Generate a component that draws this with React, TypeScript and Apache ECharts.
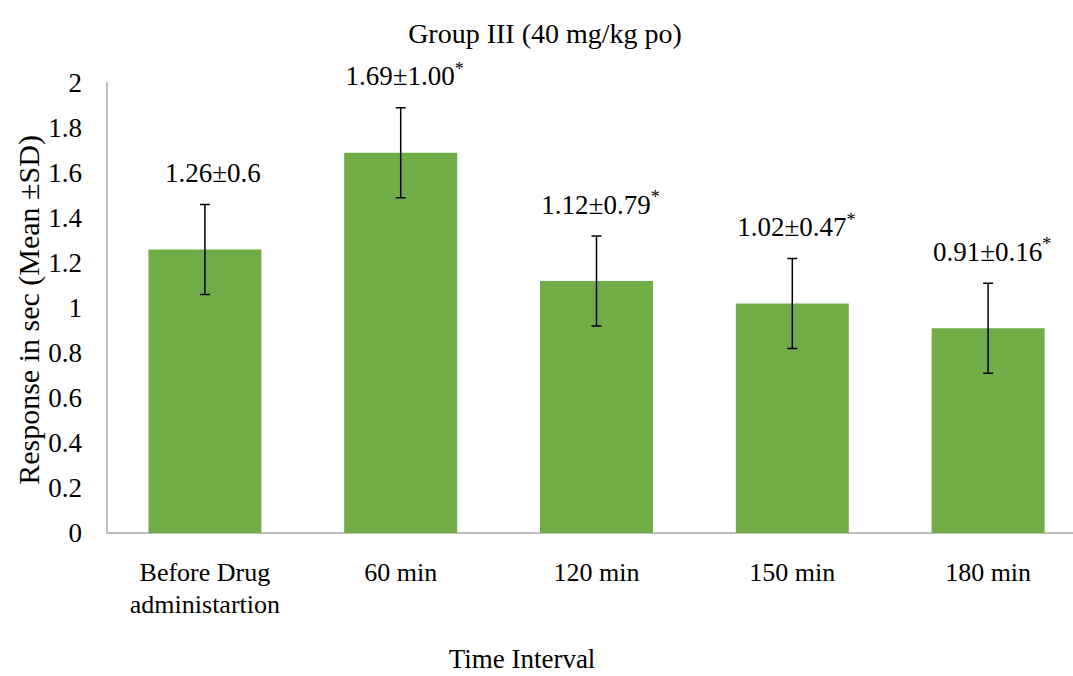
import React, { useEffect, useRef } from "react";
import * as echarts from "echarts";

const categories = ["Before Drug\nadministartion", "60 min", "120 min", "150 min", "180 min"];
const means = [1.26, 1.69, 1.12, 1.02, 0.91];
const errorBars = [0.2, 0.2, 0.2, 0.2, 0.2];
const labelTexts = ["1.26±0.6", "1.69±1.00", "1.12±0.79", "1.02±0.47", "0.91±0.16"];
const significance = ["", "*", "*", "*", "*"];
const yTicks = [0, 0.2, 0.4, 0.6, 0.8, 1, 1.2, 1.4, 1.6, 1.8, 2];
const titleText = "Group III (40 mg/kg po)";
const xAxisTitle = "Time Interval";
const yAxisTitle = "Response in sec (Mean ±SD)";

const FONT = '"Liberation Serif", "Times New Roman", serif';

export default function App() {
  const ref = useRef<HTMLDivElement>(null);

  useEffect(() => {
    if (!ref.current) return;
    const chart = echarts.init(ref.current, undefined, { renderer: "svg" });
    const errData = categories.map((_, i) => [i, means[i], errorBars[i]]);

    chart.setOption({
      animation: false,
      backgroundColor: "#ffffff",
      grid: {
        left: 107,
        right: -13,
        top: 83,
        bottom: 143,
        containLabel: false,
        outerBoundsMode: "none",
      },
      xAxis: {
        type: "category",
        data: categories,
        axisLine: { show: true, lineStyle: { color: "#BFBFBF", width: 2 } },
        axisTick: { show: false },
        axisLabel: {
          fontFamily: FONT,
          fontSize: 26,
          color: "#000000",
          lineHeight: 32,
          margin: 23,
          interval: 0,
        },
        splitLine: { show: false },
      },
      yAxis: {
        type: "value",
        min: 0,
        max: 2,
        interval: 0.2,
        axisLine: { show: true, lineStyle: { color: "#BFBFBF", width: 2 } },
        axisTick: { show: false },
        splitLine: { show: false },
        axisLabel: {
          fontFamily: FONT,
          fontSize: 27,
          color: "#000000",
          margin: 25,
          formatter: (v: number) => {
            const t = yTicks.find((k) => Math.abs(k - v) < 1e-9);
            return t === undefined ? "" : String(parseFloat(t.toFixed(1)));
          },
        },
      },
      graphic: [
        {
          type: "text",
          x: 545,
          y: 33,
          style: {
            text: titleText,
            font: `28px ${FONT}`,
            fill: "#000000",
            align: "center",
            verticalAlign: "middle",
          },
        },
        {
          type: "text",
          x: 522,
          y: 659,
          style: {
            text: xAxisTitle,
            font: `27px ${FONT}`,
            fill: "#000000",
            align: "center",
            verticalAlign: "middle",
          },
        },
        {
          type: "text",
          x: 28,
          y: 310,
          rotation: Math.PI / 2,
          style: {
            text: yAxisTitle,
            font: `30px ${FONT}`,
            fill: "#000000",
            align: "center",
            verticalAlign: "middle",
          },
        },
      ],
      series: [
        {
          type: "bar",
          data: means,
          barWidth: 113,
          itemStyle: { color: "#70AD47" },
          silent: true,
        },
        {
          type: "custom",
          data: errData,
          z: 10,
          silent: true,
          renderItem: (params: any, api: any) => {
            const i = api.value(0);
            const v = api.value(1);
            const e = api.value(2);
            const top = api.coord([i, v + e]);
            const bot = api.coord([i, v - e]);
            const x = top[0];
            const cap = 5;
            const ls = { stroke: "#000000", lineWidth: 1.5 };
            const sig = significance[i];
            return {
              type: "group",
              children: [
                { type: "line", shape: { x1: x, y1: top[1], x2: x, y2: bot[1] }, style: ls },
                { type: "line", shape: { x1: x - cap, y1: top[1], x2: x + cap, y2: top[1] }, style: ls },
                { type: "line", shape: { x1: x - cap, y1: bot[1], x2: x + cap, y2: bot[1] }, style: ls },
                {
                  type: "text",
                  x: x + (sig ? 4 : 8),
                  y: top[1] - 33,
                  style: {
                    text: sig ? `{m|${labelTexts[i]}}{s|${sig}}` : `{m|${labelTexts[i]}}`,
                    align: "center",
                    verticalAlign: "middle",
                    rich: {
                      m: { fontFamily: FONT, fontSize: 27, color: "#000000", lineHeight: 30, verticalAlign: "bottom" },
                      s: { fontFamily: FONT, fontSize: 18, color: "#000000", lineHeight: 30, verticalAlign: "top", padding: [0, 0, 12, 0] },
                    },
                  },
                },
              ],
            };
          },
        },
      ],
    });

    return () => {
      chart.dispose();
    };
  }, []);

  return (
    <div
      ref={ref}
      style={{ position: "absolute", left: 0, top: 0, width: 1073, height: 676 }}
    />
  );
}
